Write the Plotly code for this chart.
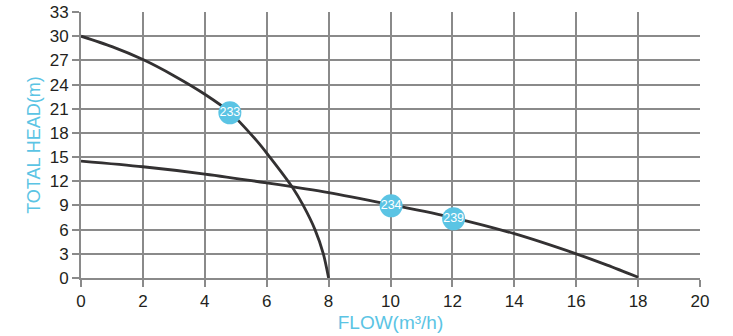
import plotly.graph_objects as go

# Pump curves
flow_233 = [0, 1, 2, 3, 4, 4.8, 5.66, 6, 6.84, 7.18, 7.56, 7.83, 8]
head_233 = [30, 28.7, 27.1, 25.1, 22.8, 20.6, 17.1, 15.5, 11.2, 9.0, 6.0, 3.0, 0]

flow_234 = [0, 2, 4, 6, 8, 10, 12, 14, 16, 17, 18]
head_234 = [14.5, 13.8, 12.9, 11.8, 10.6, 9.1, 7.5, 5.5, 3.0, 1.6, 0.1]

label_names = ["233", "234", "239"]
label_flow = [4.81, 10.02, 12.04]
label_head = [20.5, 8.95, 7.35]

x_ticks = list(range(0, 21, 2))
y_ticks = list(range(0, 34, 3))

curve_color = "#333132"
grid_color = "#8a8a8a"
blue = "#5bc4e4"

fig = go.Figure()
fig.add_trace(go.Scatter(x=flow_233, y=head_233, mode="lines",
                         line=dict(color=curve_color, width=2.8, shape="spline", smoothing=0.8),
                         showlegend=False, hoverinfo="skip"))
fig.add_trace(go.Scatter(x=flow_234, y=head_234, mode="lines",
                         line=dict(color=curve_color, width=2.8, shape="spline", smoothing=0.8),
                         showlegend=False, hoverinfo="skip"))
fig.add_trace(go.Scatter(x=label_flow, y=label_head, mode="markers+text",
                         text=label_names, textposition="middle center",
                         textfont=dict(color="white", size=12.5, family="Liberation Sans, Arial"),
                         marker=dict(size=23, color=blue, line=dict(width=0)),
                         showlegend=False, hoverinfo="skip"))

axis_font = dict(family="Liberation Sans, Arial", size=17, color="#231f20")
fig.update_layout(
    width=733, height=336,
    margin=dict(l=81, r=33, t=12, b=58),
    plot_bgcolor="white", paper_bgcolor="white",
    xaxis=dict(range=[0, 20], tickvals=x_ticks, showgrid=True, gridcolor=grid_color, gridwidth=1.8,
               showline=True, linecolor=grid_color, linewidth=1.8, zeroline=False, automargin=False,
               ticks="outside", ticklen=7, tickcolor=grid_color, tickwidth=1.8,
               tickfont=axis_font, ticklabeloverflow="allow",
               title=dict(text="FLOW(m³/h)", font=dict(family="Liberation Sans, Arial", size=19, color=blue), standoff=5)),
    yaxis=dict(range=[0, 33], tickvals=y_ticks, showgrid=True, gridcolor=grid_color, gridwidth=1.8,
               showline=True, linecolor=grid_color, linewidth=1.8, zeroline=False, automargin=False,
               ticks="outside", ticklen=7, tickcolor=grid_color, tickwidth=1.8,
               tickfont=axis_font, ticklabeloverflow="allow",
               title=dict(text="TOTAL HEAD(m)", font=dict(family="Liberation Sans, Arial", size=18, color=blue), standoff=4)),
)
fig.write_html("out.html", config={"displayModeBar": False},
               post_script="document.body.style.margin='0';")
